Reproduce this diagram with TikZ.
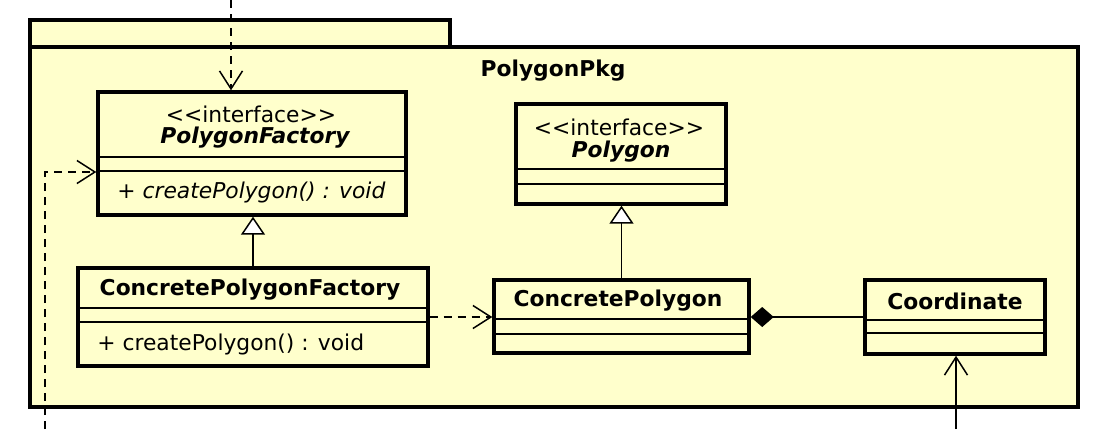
\documentclass[tikz,border=0pt]{standalone}
\usepackage{fontspec}
\setmainfont{DejaVu Sans}
\usetikzlibrary{arrows.meta, fit}

\definecolor{umlfill}{RGB}{255,255,204}

\tikzset{
    classbox/.style={draw, line width=1.7pt, fill=umlfill, inner sep=0pt},
    divider/.style={line width=0.8pt},
    title/.style={inner sep=0pt, anchor=center},
    member/.style={inner sep=0pt, anchor=west},
    dep/.style={line width=0.75pt, dash pattern=on 4pt off 3pt, -{Straight Barb[length=9pt, width=11.5pt]}},
    assoc/.style={line width=0.75pt, -{Straight Barb[length=9pt, width=11.5pt]}},
    generalize/.style={line width=0.75pt, -{Triangle[open, length=9pt, width=12pt, fill=white]}},
    compose/.style={line width=0.75pt, -{Diamond[length=11.5pt, width=10pt]}}
}

\begin{document}
\begin{tikzpicture}[x=0.5pt, y=-0.5pt, font=\fontsize{10.9}{13}\selectfont]
    \useasboundingbox (0,0) rectangle (1113,429);

    % Package
    \node[classbox, fit={(30,20) (450,47)}] (tab) {};
    \node[classbox, fit={(30,47) (1078,407)}] (pkg) {};
    \node[title] (pkgname) at (553,71) {\bfseries PolygonPkg};

    % Classes
    \node[classbox, fit={(98,92) (406,215)}] (pf) {};
    \draw[divider] (pf.west |- 0,157) -- (pf.east |- 0,157);
    \draw[divider] (pf.west |- 0,171) -- (pf.east |- 0,171);
    \node[title] (pfstereo) at (251,114) {{<}{<}interface{>}{>}};
    \node[title] (pfname) at (255,138) {\bfseries\itshape PolygonFactory};
    \node[member] (pfop) at (117,192) {+ \itshape createPolygon() : void};

    \node[classbox, fit={(516,104) (726,204)}] (poly) {};
    \draw[divider] (poly.west |- 0,169) -- (poly.east |- 0,169);
    \draw[divider] (poly.west |- 0,184) -- (poly.east |- 0,184);
    \node[title] (polystereo) at (619,127) {{<}{<}interface{>}{>}};
    \node[title] (polyname) at (621,152) {\bfseries\itshape Polygon};

    \node[classbox, fit={(78,268) (428,366)}] (cpf) {};
    \draw[divider] (cpf.west |- 0,308) -- (cpf.east |- 0,308);
    \draw[divider] (cpf.west |- 0,322) -- (cpf.east |- 0,322);
    \node[title] (cpfname) at (250,290) {\bfseries ConcretePolygonFactory};
    \node[member] (cpfop) at (97,344) {+ createPolygon() : void};

    \node[classbox, fit={(494,280) (749,353)}] (cp) {};
    \draw[divider] (cp.west |- 0,319) -- (cp.east |- 0,319);
    \draw[divider] (cp.west |- 0,334) -- (cp.east |- 0,334);
    \node[title] (cpname) at (618,301) {\bfseries ConcretePolygon};

    \node[classbox, fit={(865,280) (1045,354)}] (coord) {};
    \draw[divider] (coord.west |- 0,320) -- (coord.east |- 0,320);
    \draw[divider] (coord.west |- 0,333) -- (coord.east |- 0,333);
    \node[title] (coordname) at (955,301) {\bfseries Coordinate};

    % Relations
    \draw[generalize] (cpf.north) -- (cpf.north |- pf.south);
    \draw[generalize] (cp.north) -- (cp.north |- poly.south);
    \draw[dep] (cpf.east) -- (cpf.east -| cp.west);
    \draw[compose] (coord.west) -- (coord.west -| cp.east);

    % Outside connectors
    \coordinate (topin) at (231,0);
    \coordinate (leftin) at (45,429);
    \coordinate (botin) at (956,429);
    \draw[dep] (topin) -- (topin |- pf.north);
    \draw[dep] (leftin) |- ([yshift=-9.25pt]pf.west);
    \draw[assoc] (botin) -- (botin |- coord.south);
\end{tikzpicture}
\end{document}
